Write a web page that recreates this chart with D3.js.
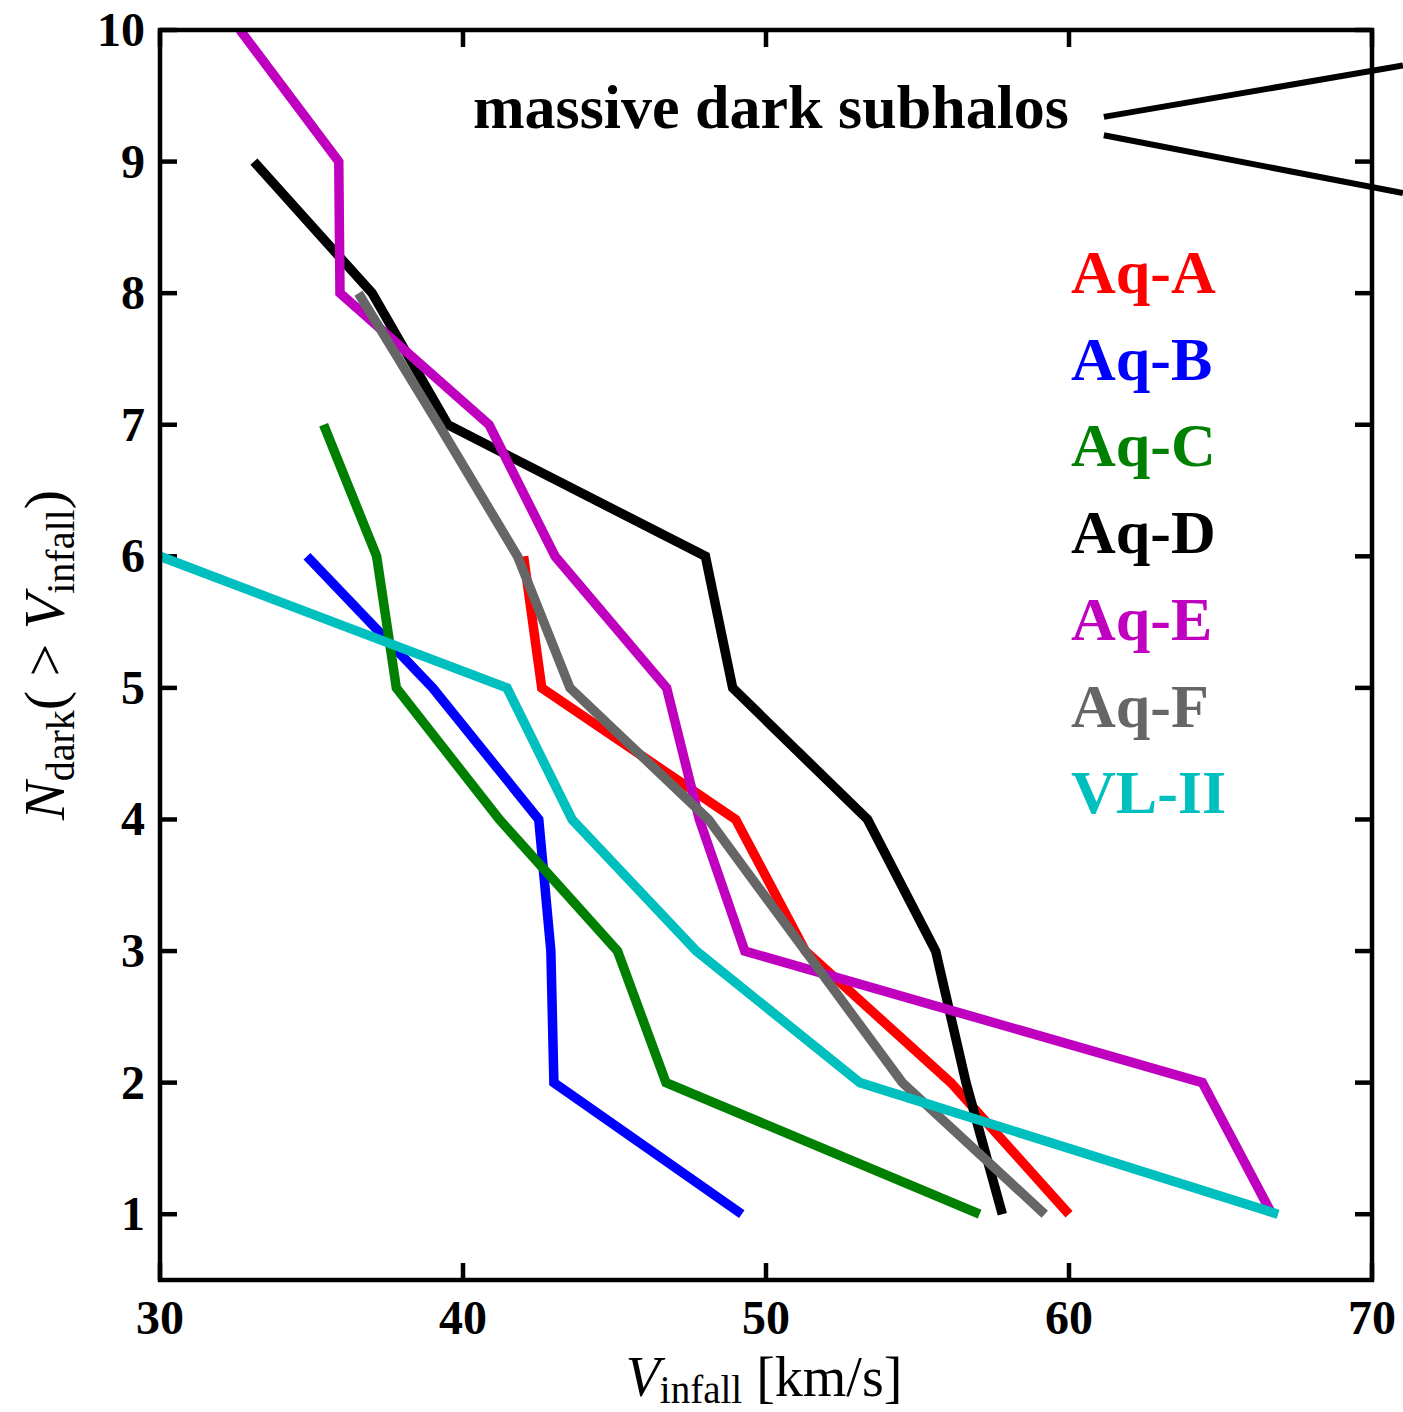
<!DOCTYPE html>
<html><head><meta charset="utf-8">
<script src="https://cdn.jsdelivr.net/npm/d3@7"></script>
<style>body{margin:0;background:#fff;} svg{display:block;}</style>
</head><body>
<svg id="chart" width="1403" height="1412"></svg>
<script>
// ---- data ----
const seriesNames = ["Aq-A","Aq-B","Aq-C","Aq-D","Aq-E","Aq-F","VL-II"];
const seriesColors = ["#ff0000","#0000ff","#008000","#000000","#bf00bf","#666666","#00bfbf"];
const aqA_V = [42.0,42.6,49.0,51.3,56.1,60.0];          const aqA_N = [6,5,4,3,2,1];
const aqB_V = [34.85,39.0,42.5,42.9,43.0,49.2];          const aqB_N = [6,5,4,3,2,1];
const aqC_V = [35.4,37.15,37.8,41.2,45.1,46.7,57.05];    const aqC_N = [7,6,5,4,3,2,1];
const aqD_V = [33.1,37.0,39.5,48.0,48.9,53.35,55.6,56.6,57.8]; const aqD_N = [9,8,7,6,5,4,3,2,1];
const aqE_V = [32.64,35.9,35.94,40.86,43.04,46.72,47.8,49.3,64.4,66.7]; const aqE_N = [10,9,8,7,6,5,4,3,2,1];
const aqF_V = [36.55,39.2,41.8,43.53,48.1,51.3,54.5,59.2]; const aqF_N = [8,7,6,5,4,3,2,1];
const vl2_V = [30.0,41.45,43.6,47.7,53.1,66.9];          const vl2_N = [6,5,4,3,2,1];
const seriesV = [aqA_V,aqB_V,aqC_V,aqD_V,aqE_V,aqF_V,vl2_V];
const seriesN = [aqA_N,aqB_N,aqC_N,aqD_N,aqE_N,aqF_N,vl2_N];
const xTicks = [30,40,50,60,70];
const yTicks = [1,2,3,4,5,6,7,8,9,10];
const annotText = "massive dark subhalos";
const annotLines = [[[61.15,9.34],[71.02,9.73]],[[61.15,9.20],[71.02,8.76]]];

// ---- layout ----
const svg = d3.select("#chart");
const X0=160, X1=1372, Y0=1280, Y1=30;
const x = d3.scaleLinear().domain([30,70]).range([X0,X1]);
const y = d3.scaleLinear().domain([0.5,10]).range([Y0,Y1]);
const font = "'Liberation Serif','Times New Roman',serif";

svg.append("defs").append("clipPath").attr("id","clip")
  .append("rect").attr("x",X0).attr("y",Y1).attr("width",X1-X0).attr("height",Y0-Y1);

// ticks (inward, all four sides)
const tl = 17;
const tg = svg.append("g").attr("stroke","#000").attr("stroke-width",4.5);
xTicks.forEach(t=>{
  tg.append("line").attr("x1",x(t)).attr("x2",x(t)).attr("y1",Y0).attr("y2",Y0-tl);
  tg.append("line").attr("x1",x(t)).attr("x2",x(t)).attr("y1",Y1).attr("y2",Y1+tl);
});
yTicks.forEach(t=>{
  tg.append("line").attr("x1",X0).attr("x2",X0+tl).attr("y1",y(t)).attr("y2",y(t));
  tg.append("line").attr("x1",X1).attr("x2",X1-tl).attr("y1",y(t)).attr("y2",y(t));
});

// tick labels
svg.append("g").selectAll("text").data(xTicks).join("text")
  .attr("x",d=>x(d)).attr("y",1334).attr("text-anchor","middle")
  .attr("font-family",font).attr("font-weight","bold").attr("font-size",48).text(d=>d);
svg.append("g").selectAll("text").data(yTicks).join("text")
  .attr("x",145).attr("y",d=>y(d)+16).attr("text-anchor","end")
  .attr("font-family",font).attr("font-weight","bold").attr("font-size",48).text(d=>d);

// data lines
const line = d3.line().x(d=>x(d[0])).y(d=>y(d[1]));
const lg = svg.append("g").attr("clip-path","url(#clip)");
seriesNames.forEach((name,i)=>{
  const pts = seriesV[i].map((v,j)=>[v,seriesN[i][j]]);
  lg.append("path").datum(pts).attr("d",line).attr("fill","none")
    .attr("stroke",seriesColors[i]).attr("stroke-width",9.5)
    .attr("stroke-linejoin","miter").attr("stroke-linecap","butt");
});

// frame
svg.append("rect").attr("x",X0).attr("y",Y1).attr("width",X1-X0).attr("height",Y0-Y1)
  .attr("fill","none").attr("stroke","#000").attr("stroke-width",4.5);

// legend
seriesNames.forEach((name,i)=>{
  svg.append("text").attr("x",x(60)+2).attr("y",293+i*86.7)
    .attr("font-family",font).attr("font-weight","bold").attr("font-size",62)
    .attr("fill",seriesColors[i]).text(name);
});

// annotation
svg.append("text").attr("x",x(60)).attr("y",y(9.255)).attr("text-anchor","end")
  .attr("font-family",font).attr("font-weight","bold").attr("font-size",62).text(annotText);
annotLines.forEach(l=>{
  svg.append("line").attr("x1",x(l[0][0])).attr("y1",y(l[0][1]))
    .attr("x2",x(l[1][0])).attr("y2",y(l[1][1]))
    .attr("stroke","#000").attr("stroke-width",6);
});

// axis labels
const xl = svg.append("text").attr("x",764).attr("y",1396).attr("text-anchor","middle")
  .attr("font-family",font).attr("font-size",56);
xl.append("tspan").attr("font-style","italic").text("V");
xl.append("tspan").attr("font-size",39).attr("dy",7).text("infall");
xl.append("tspan").attr("dy",-7).text(" [km/s]");

const yl = svg.append("text").attr("transform","translate(64,655) rotate(-90)")
  .attr("text-anchor","middle").attr("font-family",font).attr("font-size",58);
yl.append("tspan").attr("font-style","italic").text("N");
yl.append("tspan").attr("font-size",40).attr("dy",10).text("dark");
yl.append("tspan").attr("dy",-10).text("( > ");
yl.append("tspan").attr("font-style","italic").text("V");
yl.append("tspan").attr("font-size",40).attr("dy",10).text("infall");
yl.append("tspan").attr("dy",-10).text(")");
</script>
</body></html>
